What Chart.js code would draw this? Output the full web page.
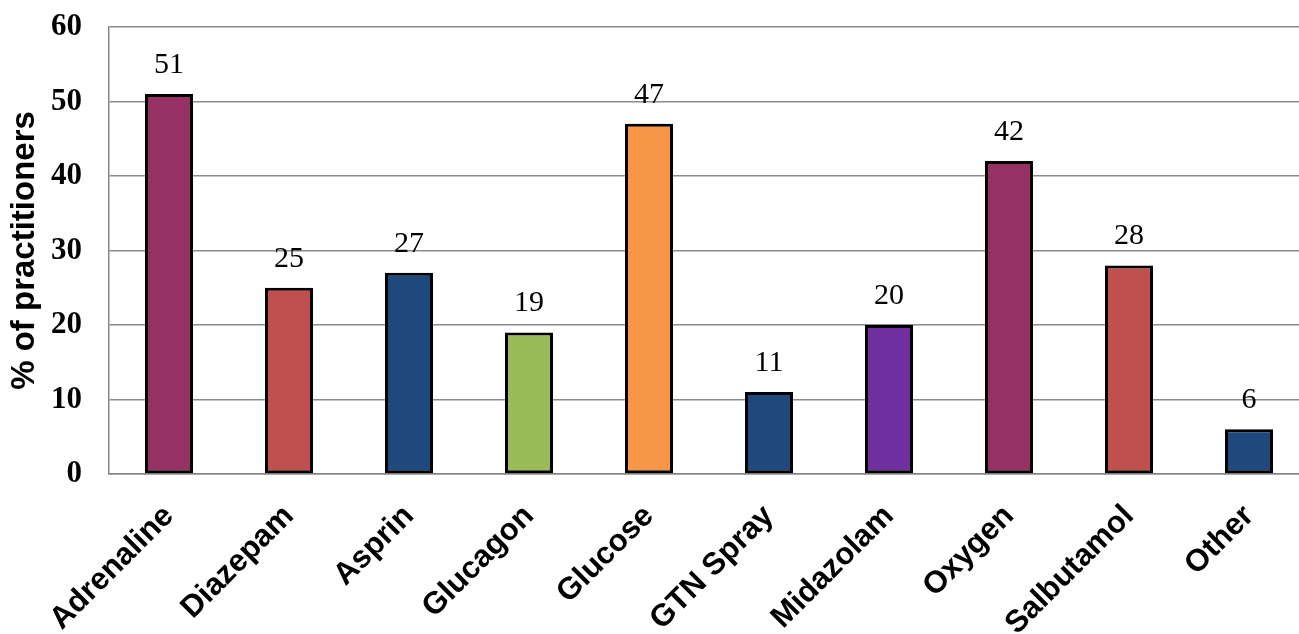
<!DOCTYPE html>
<html>
<head>
<meta charset="utf-8">
<script src="https://cdn.jsdelivr.net/npm/chart.js@4"></script>
<style>
  html, body { margin: 0; padding: 0; background: #fff; overflow: hidden; }
  #wrap { width: 1320px; height: 634px; }
</style>
</head>
<body>
<div id="wrap"><canvas id="myChart"></canvas></div>
<script>
// -- ** data ** -- \\
const drugs = ["Adrenaline", "Diazepam", "Asprin", "Glucagon", "Glucose", "GTN Spray", "Midazolam", "Oxygen", "Salbutamol", "Other"];
const percentValues = [51, 25, 27, 19, 47, 11, 20, 42, 28, 6];
const barColors = ["#953163", "#C0504D", "#1F497D", "#9BBB59", "#F79646", "#1F497D", "#7030A0", "#953163", "#C0504D", "#1F497D"];
const yTicks = [0, 10, 20, 30, 40, 50, 60];

// -- ** value labels on top of bars ** -- \\
const valueLabels = {
  id: "valueLabels",
  afterDatasetsDraw(chart) {
    const ctx = chart.ctx;
    const meta = chart.getDatasetMeta(0);
    ctx.save();
    ctx.font = "30px 'Liberation Serif', 'Times New Roman', serif";
    ctx.fillStyle = "#000";
    ctx.textAlign = "center";
    ctx.textBaseline = "middle";
    meta.data.forEach((bar, i) => {
      ctx.fillText(percentValues[i], bar.x, bar.y - 29);
    });
    ctx.restore();
  }
};

const config = {
  type: "bar",
  data: {
    labels: drugs,
    datasets: [{
      data: percentValues,
      backgroundColor: barColors,
      borderColor: "#000",
      borderWidth: 3,
      borderSkipped: false,
      barPercentage: 0.4,
      categoryPercentage: 1
    }]
  },
  options: {
    responsive: true,
    maintainAspectRatio: false,
    animation: false,
    layout: { padding: { top: 27, right: 11, left: 0, bottom: 0 } },
    plugins: { legend: { display: false }, tooltip: { enabled: false } },
    scales: {
      x: {
        grid: { display: false, drawTicks: false },
        border: { color: "#868686", width: 1.5 },
        ticks: {
          color: "#000",
          minRotation: 45,
          maxRotation: 45,
          padding: 24,
          font: { family: "'Liberation Sans', Arial, sans-serif", size: 31, weight: "bold" }
        },
        afterFit(scale) { scale.height = 160; scale.paddingTop = 0; }
      },
      y: {
        min: 0,
        max: 60,
        afterBuildTicks(scale) { scale.ticks = yTicks.map(v => ({ value: v })); },
        grid: { color: "#8c8c8c", lineWidth: 1.5, drawTicks: false },
        border: { color: "#868686", width: 1.5 },
        ticks: {
          color: "#000",
          padding: 27,
          font: { family: "'Liberation Serif', 'Times New Roman', serif", size: 31, weight: "bold" }
        },
        title: {
          display: true,
          text: "% of practitioners",
          color: "#000",
          padding: { top: 5, bottom: 0 },
          font: { family: "'Liberation Sans', Arial, sans-serif", size: 33, weight: "bold" }
        },
        afterFit(scale) { scale.width = 109; scale.paddingTop = 0; }
      }
    }
  },
  plugins: [valueLabels]
};

const myChart = document.getElementById("myChart");
window.myChart = new Chart(myChart, config);
</script>
</body>
</html>
